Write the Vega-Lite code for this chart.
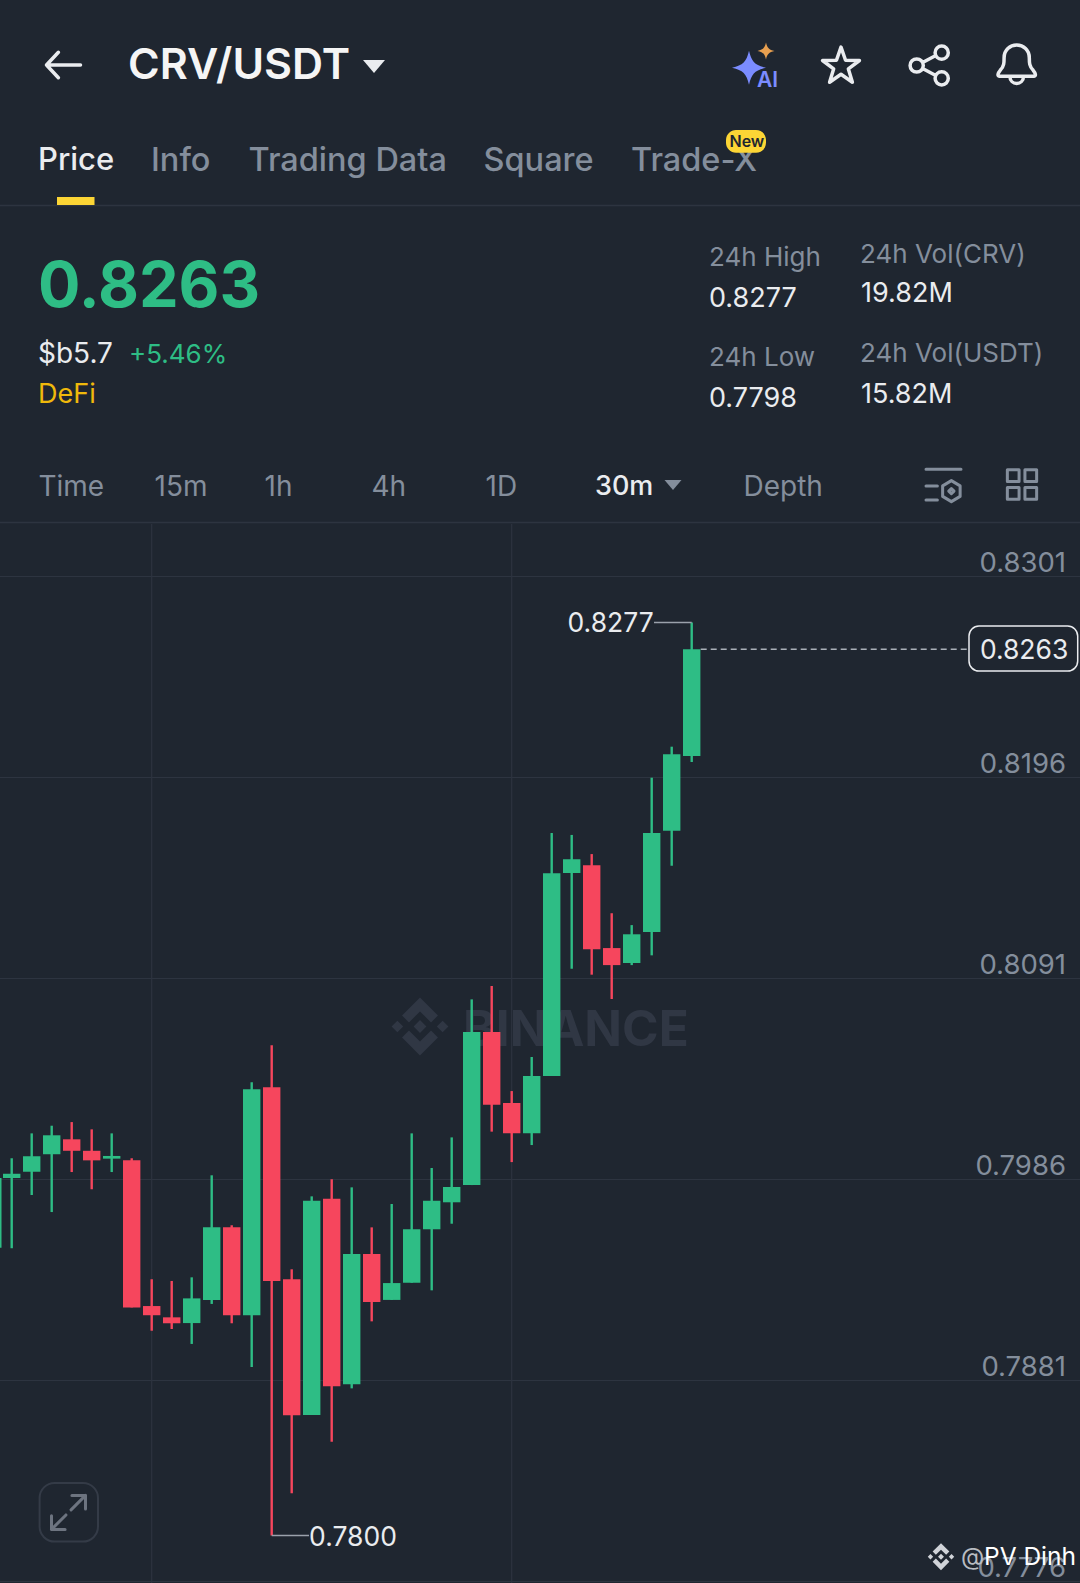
{
  "$schema": "https://vega.github.io/schema/vega-lite/v6.json",
  "width": 1080,
  "height": 1583,
  "padding": 0,
  "autosize": {"type": "none"},
  "background": "#1f2630",
  "config": {"view": {"stroke": null}, "font": "Inter", "text": {"font": "Inter"}},
  "datasets": {
    "candles": [
      {"t": 0.43, "open": 0.79868, "high": 0.79868, "low": 0.79504, "close": 0.79868, "dir": "up"},
      {"t": 1, "open": 0.79868, "high": 0.79971, "low": 0.79501, "close": 0.7989, "dir": "up"},
      {"t": 2, "open": 0.79901, "high": 0.80101, "low": 0.79779, "close": 0.79981, "dir": "up"},
      {"t": 3, "open": 0.79992, "high": 0.80141, "low": 0.7969, "close": 0.80091, "dir": "up"},
      {"t": 4, "open": 0.8007, "high": 0.8016, "low": 0.79899, "close": 0.8001, "dir": "down"},
      {"t": 5, "open": 0.8001, "high": 0.80122, "low": 0.79809, "close": 0.7996, "dir": "down"},
      {"t": 6, "open": 0.79969, "high": 0.80101, "low": 0.79899, "close": 0.79983, "dir": "up"},
      {"t": 7, "open": 0.7996, "high": 0.79971, "low": 0.79192, "close": 0.79192, "dir": "down"},
      {"t": 8, "open": 0.79199, "high": 0.79339, "low": 0.7907, "close": 0.79151, "dir": "down"},
      {"t": 9, "open": 0.7914, "high": 0.7933, "low": 0.79079, "close": 0.79109, "dir": "down"},
      {"t": 10, "open": 0.7911, "high": 0.79349, "low": 0.79001, "close": 0.79239, "dir": "up"},
      {"t": 11, "open": 0.79231, "high": 0.79882, "low": 0.7921, "close": 0.7961, "dir": "up"},
      {"t": 12, "open": 0.7961, "high": 0.79621, "low": 0.79109, "close": 0.79151, "dir": "down"},
      {"t": 13, "open": 0.79151, "high": 0.80368, "low": 0.78881, "close": 0.80332, "dir": "up"},
      {"t": 14, "open": 0.80342, "high": 0.80561, "low": 0.78, "close": 0.7933, "dir": "down"},
      {"t": 15, "open": 0.79339, "high": 0.79391, "low": 0.78221, "close": 0.78628, "dir": "down"},
      {"t": 16, "open": 0.7863, "high": 0.79772, "low": 0.7863, "close": 0.79749, "dir": "up"},
      {"t": 17, "open": 0.7976, "high": 0.79861, "low": 0.7849, "close": 0.7878, "dir": "down"},
      {"t": 18, "open": 0.7879, "high": 0.79819, "low": 0.78769, "close": 0.79471, "dir": "up"},
      {"t": 19, "open": 0.79471, "high": 0.7961, "low": 0.79119, "close": 0.7922, "dir": "down"},
      {"t": 20, "open": 0.79231, "high": 0.79732, "low": 0.79231, "close": 0.79319, "dir": "up"},
      {"t": 21, "open": 0.79321, "high": 0.80101, "low": 0.79321, "close": 0.796, "dir": "up"},
      {"t": 22, "open": 0.796, "high": 0.7992, "low": 0.79281, "close": 0.79749, "dir": "up"},
      {"t": 23, "open": 0.79741, "high": 0.8008, "low": 0.79629, "close": 0.79821, "dir": "up"},
      {"t": 24, "open": 0.79831, "high": 0.80801, "low": 0.79831, "close": 0.8063, "dir": "up"},
      {"t": 25, "open": 0.8063, "high": 0.80871, "low": 0.8011, "close": 0.80251, "dir": "down"},
      {"t": 26, "open": 0.8026, "high": 0.80322, "low": 0.79951, "close": 0.80101, "dir": "down"},
      {"t": 27, "open": 0.80101, "high": 0.805, "low": 0.8004, "close": 0.80401, "dir": "up"},
      {"t": 28, "open": 0.80401, "high": 0.8167, "low": 0.80401, "close": 0.8146, "dir": "up"},
      {"t": 29, "open": 0.81461, "high": 0.8166, "low": 0.80961, "close": 0.81533, "dir": "up"},
      {"t": 30, "open": 0.81501, "high": 0.8156, "low": 0.8093, "close": 0.81063, "dir": "down"},
      {"t": 31, "open": 0.81069, "high": 0.81251, "low": 0.80803, "close": 0.8098, "dir": "down"},
      {"t": 32, "open": 0.80991, "high": 0.81189, "low": 0.8098, "close": 0.81141, "dir": "up"},
      {"t": 33, "open": 0.81153, "high": 0.81959, "low": 0.81031, "close": 0.8167, "dir": "up"},
      {"t": 34, "open": 0.81682, "high": 0.82121, "low": 0.81499, "close": 0.82081, "dir": "up"},
      {"t": 35, "open": 0.82072, "high": 0.8277, "low": 0.82041, "close": 0.8263, "dir": "up"}
    ],
    "ticks": [
      {"t": 0.415, "t2": 54.415, "labelAt": 53.715, "tick": 0.8301, "label": "0.8301"},
      {"t": 0.415, "t2": 54.415, "labelAt": 53.715, "tick": 0.8196, "label": "0.8196"},
      {"t": 0.415, "t2": 54.415, "labelAt": 53.715, "tick": 0.8091, "label": "0.8091"},
      {"t": 0.415, "t2": 54.415, "labelAt": 53.715, "tick": 0.7986, "label": "0.7986"},
      {"t": 0.415, "t2": 54.415, "labelAt": 53.715, "tick": 0.7881, "label": "0.7881"},
      {"t": 0.415, "t2": 54.415, "labelAt": 53.715, "tick": 0.7776, "label": "0.7776"}
    ],
    "textMedium": [
      {"slot": 0, "label": "Price", "role": "tabOn"},
      {"slot": 1, "label": "Info", "role": "tab"},
      {"slot": 2, "label": "Trading Data", "role": "tab"},
      {"slot": 3, "label": "Square", "role": "tab"},
      {"slot": 4, "label": "Trade-X", "role": "tab"},
      {"slot": 5, "label": "30m", "role": "timeOn"}
    ],
    "textBold": [
      {"slot": 6, "label": "CRV/USDT", "role": "title"},
      {"slot": 27, "label": "AI", "role": "ai"},
      {"slot": 28, "label": "New", "role": "new"}
    ],
    "textRegular": [
      {"slot": 8, "label": "$b5.7", "role": "fiat"},
      {"slot": 9, "label": "+5.46%", "role": "change"},
      {"slot": 10, "label": "DeFi", "role": "sector"},
      {"slot": 11, "label": "24h High", "role": "stat"},
      {"slot": 12, "label": "0.8277", "role": "statValue"},
      {"slot": 13, "label": "24h Vol(CRV)", "role": "stat"},
      {"slot": 14, "label": "19.82M", "role": "statValue"},
      {"slot": 15, "label": "24h Low", "role": "stat"},
      {"slot": 16, "label": "0.7798", "role": "statValue"},
      {"slot": 17, "label": "24h Vol(USDT)", "role": "stat"},
      {"slot": 18, "label": "15.82M", "role": "statValue"},
      {"slot": 19, "label": "Time", "role": "time"},
      {"slot": 20, "label": "15m", "role": "time"},
      {"slot": 21, "label": "1h", "role": "time"},
      {"slot": 22, "label": "4h", "role": "time"},
      {"slot": 23, "label": "1D", "role": "time"},
      {"slot": 24, "label": "Depth", "role": "time"},
      {"slot": 25, "label": "@", "role": "at"},
      {"slot": 26, "label": "PV Dinh", "role": "credit"}
    ],
    "strokeIcons": [
      {"slot": 30, "icon": "arrow"},
      {"slot": 34, "icon": "star"},
      {"slot": 35, "icon": "share"},
      {"slot": 36, "icon": "bell"},
      {"slot": 38, "icon": "sliders"},
      {"slot": 39, "icon": "grid"},
      {"slot": 40, "icon": "expand"}
    ],
    "fillIcons": [
      {"slot": 31, "icon": "caret"},
      {"slot": 32, "icon": "spark"},
      {"slot": 33, "icon": "sparkSmall"},
      {"slot": 37, "icon": "caretSmall"},
      {"slot": 42, "icon": "logo"}
    ]
  },
  "layer": [
    {
      "encoding": {
        "x": {"field": "slot", "type": "quantitative", "axis": null, "scale": {"domain": [0, 1], "range": [463, 420], "nice": false, "zero": false}},
        "y": {"field": "slot", "type": "quantitative", "axis": null, "scale": {"domain": [0, 1], "range": [1030.5, 1026.5], "nice": false, "zero": false}}
      },
      "layer": [
        {
          "data": {"values": [{"slot": 0, "label": "BINANCE"}]},
          "mark": {"type": "text", "align": "left", "baseline": "middle", "fontSize": 49.5, "fontWeight": 700, "color": "#303744"},
          "encoding": {"text": {"field": "label"}}
        },
        {
          "data": {"values": [{"slot": 1, "label": "logo"}]},
          "mark": {"type": "point", "filled": true, "opacity": 1, "size": 3364, "color": "#303744", "shape": "M0,-1 L0.62,-0.38 L0.38,-0.14 L0,-0.52 L-0.38,-0.14 L-0.62,-0.38 Z M0,1 L0.62,0.38 L0.38,0.14 L0,0.52 L-0.38,0.14 L-0.62,0.38 Z M0,-0.22 L0.22,0 L0,0.22 L-0.22,0 Z M-0.78,-0.2 L-0.58,0 L-0.78,0.2 L-0.98,0 Z M0.78,-0.2 L0.98,0 L0.78,0.2 L0.58,0 Z"},
          "encoding": {}
        }
      ]
    },
    {
      "encoding": {
        "x": {"field": "t", "type": "quantitative", "axis": null, "scale": {"domain": [0.415, 54.415], "nice": false, "zero": false, "padding": 0}}
      },
      "layer": [
        {
          "data": {"name": "ticks"},
          "mark": {"type": "rule", "color": "#2d3440", "strokeWidth": 1.2},
          "encoding": {
            "y": {"field": "tick", "type": "quantitative", "axis": null, "scale": {"domain": [0.777522, 0.860216], "nice": false, "zero": false}},
            "x2": {"field": "t2"}
          }
        },
        {
          "data": {"name": "ticks"},
          "mark": {"type": "text", "align": "right", "baseline": "middle", "dy": -13, "fontSize": 27.5, "color": "#848e9c"},
          "encoding": {
            "x": {"field": "labelAt", "type": "quantitative", "axis": null},
            "y": {"field": "tick", "type": "quantitative", "axis": null},
            "text": {"field": "label"}
          }
        },
        {
          "data": {"values": [{"t": 8, "top": 0.83284, "bottom": 0.777522}, {"t": 26, "top": 0.83284, "bottom": 0.777522}]},
          "mark": {"type": "rule", "color": "#2d3440", "strokeWidth": 1.2},
          "encoding": {
            "y": {"field": "top", "type": "quantitative", "axis": null},
            "y2": {"field": "bottom"}
          }
        },
        {
          "data": {"name": "candles"},
          "mark": {"type": "rule", "strokeWidth": 2.4},
          "encoding": {
            "y": {"field": "low", "type": "quantitative", "axis": null},
            "y2": {"field": "high"},
            "color": {"field": "dir", "type": "nominal", "legend": null, "scale": {"domain": ["up", "down"], "range": ["#2ebd85", "#f6465d"]}}
          }
        },
        {
          "data": {"name": "candles"},
          "mark": {"type": "bar", "size": 17.4, "orient": "vertical"},
          "encoding": {
            "y": {"field": "open", "type": "quantitative", "axis": null},
            "y2": {"field": "close"},
            "color": {"field": "dir", "type": "nominal", "legend": null, "scale": {"domain": ["up", "down"], "range": ["#2ebd85", "#f6465d"]}}
          }
        },
        {
          "data": {"values": [{"t": 33.115, "t2": 35, "price": 0.8277}, {"t": 14, "t2": 15.865, "price": 0.78}]},
          "mark": {"type": "rule", "color": "#9aa1ab", "strokeWidth": 1.5},
          "encoding": {
            "y": {"field": "price", "type": "quantitative", "axis": null},
            "x2": {"field": "t2"}
          }
        },
        {
          "data": {"values": [{"t": 35.45, "t2": 48.8, "price": 0.8263}]},
          "mark": {"type": "rule", "color": "#aab0b8", "strokeWidth": 1.5, "strokeDash": [6, 4]},
          "encoding": {
            "y": {"field": "price", "type": "quantitative", "axis": null},
            "x2": {"field": "t2"}
          }
        },
        {
          "data": {"values": [{"t": 48.865, "t2": 54.3, "top": 0.82751, "bottom": 0.82516}]},
          "mark": {"type": "rect", "fill": "#1f2630", "stroke": "#eaecef", "strokeWidth": 1.5, "cornerRadius": 10},
          "encoding": {
            "y": {"field": "top", "type": "quantitative", "axis": null},
            "y2": {"field": "bottom"},
            "x2": {"field": "t2"}
          }
        },
        {
          "data": {"values": [{"t": 33.1, "price": 0.8277, "label": "0.8277"}]},
          "mark": {"type": "text", "align": "right", "baseline": "middle", "dy": 2, "fontSize": 26.5, "color": "#eaecef"},
          "encoding": {
            "y": {"field": "price", "type": "quantitative", "axis": null},
            "text": {"field": "label"}
          }
        },
        {
          "data": {"values": [{"t": 15.87, "price": 0.78, "label": "0.7800"}]},
          "mark": {"type": "text", "align": "left", "baseline": "middle", "dy": 2, "fontSize": 26.5, "color": "#eaecef"},
          "encoding": {
            "y": {"field": "price", "type": "quantitative", "axis": null},
            "text": {"field": "label"}
          }
        },
        {
          "data": {"values": [{"t": 51.62, "price": 0.8263, "label": "0.8263"}]},
          "mark": {"type": "text", "align": "center", "baseline": "middle", "dy": 2, "fontSize": 26.5, "color": "#eaecef"},
          "encoding": {
            "y": {"field": "price", "type": "quantitative", "axis": null},
            "text": {"field": "label"}
          }
        }
      ]
    },
    {
      "encoding": {
        "x": {
          "field": "slot",
          "type": "quantitative",
          "axis": null,
          "scale": {
            "nice": false,
            "zero": false,
            "padding": 0,
            "domain": [0,1,2,3,4,5,6,7,8,9,10,11,12,13,14,15,16,17,18,19,20,21,22,23,24,25,26,27,28,29,30,31,32,33,34,35,36,37,38,39,40,41,42,43,44,45,46,47,48,49,50,51,52],
            "range": [38,151,248.5,483.5,631,595,128,38,38,129,38,709,709,860,861,709,709,860,861,38.4,154.5,264.5,371.5,485.5,743.5,961,984,757,729.5,0,63.5,374,749,766,841,930,1016.7,673,943.5,1022,68.5,0,941,57,94.5,726,766,39.6,98,0,1080,0,1080]
          }
        },
        "y": {
          "field": "slot",
          "type": "quantitative",
          "axis": null,
          "scale": {
            "nice": false,
            "zero": false,
            "padding": 0,
            "domain": [0,1,2,3,4,5,6,7,8,9,10,11,12,13,14,15,16,17,18,19,20,21,22,23,24,25,26,27,28,29,30,31,32,33,34,35,36,37,38,39,40,41,42,43,44,45,46,47,48,49,50,51,52],
            "range": [160.5,160.5,160.5,160.5,160.5,487,66,287.5,355,355,394.5,257.5,299,254.5,294,357.5,398.5,353.5,394.5,487.5,487.5,487.5,487.5,487.5,487.5,1558,1558,81,142,0,65,66.5,67.7,51,66.5,65.5,64.5,485,485,484.5,1512.4,0,1556.7,197,205,130,152.7,1483,1541.6,205.5,205.5,522.5,522.5]
          }
        }
      },
      "layer": [
        {
          "data": {"values": [{"slot": 49, "slotEnd": 50}, {"slot": 51, "slotEnd": 52}]},
          "mark": {"type": "rule", "color": "#2d3440", "strokeWidth": 1.5},
          "encoding": {"x2": {"field": "slotEnd"}}
        },
        {
          "data": {"values": [{"slot": 43, "slotEnd": 44}]},
          "mark": {"type": "rect", "color": "#fcd535"},
          "encoding": {"x2": {"field": "slotEnd"}, "y2": {"field": "slotEnd"}}
        },
        {
          "data": {"values": [{"slot": 47, "slotEnd": 48}]},
          "mark": {"type": "rect", "fill": "#1f2630", "stroke": "#343b47", "strokeWidth": 2, "cornerRadius": 15},
          "encoding": {"x2": {"field": "slotEnd"}, "y2": {"field": "slotEnd"}}
        },
        {
          "encoding": {
            "text": {"field": "label"},
            "size": {
              "field": "role",
              "type": "nominal",
              "legend": null,
              "scale": {
                "type": "ordinal",
                "domain": ["title", "tabOn", "tab", "price", "fiat", "change", "sector", "stat", "statValue", "timeOn", "time", "at", "credit", "ai", "new"],
                "range": [43, 31, 32.5, 63, 28, 26, 27, 26, 27, 27, 28, 24, 24.5, 21, 16]
              }
            },
            "color": {
              "field": "role",
              "type": "nominal",
              "legend": null,
              "scale": {
                "domain": ["title", "tabOn", "tab", "price", "fiat", "change", "sector", "stat", "statValue", "timeOn", "time", "at", "credit", "ai", "new"],
                "range": ["#f5f5f5", "#eaecef", "#848e9c", "#2ebd85", "#eaecef", "#2ebd85", "#f0b90b", "#848e9c", "#eaecef", "#eaecef", "#848e9c", "#b8bcc2", "#ffffff", "#7b8cff", "#1f2630"]
              }
            }
          },
          "layer": [
            {
              "data": {"name": "textRegular"},
              "mark": {"type": "text", "align": "left", "baseline": "middle", "fontWeight": 400}
            },
            {
              "data": {"name": "textMedium"},
              "mark": {"type": "text", "align": "left", "baseline": "middle", "fontWeight": 500}
            },
            {
              "data": {"values": [{"slot": 7, "label": "0.8263", "role": "price"}]},
              "mark": {"type": "text", "align": "left", "baseline": "middle", "fontWeight": 700}
            },
            {
              "data": {"values": [{"slot": 45, "slotEnd": 46}]},
              "mark": {"type": "rect", "color": "#fcd535", "cornerRadius": 10},
              "encoding": {"x2": {"field": "slotEnd"}, "y2": {"field": "slotEnd"}, "text": null, "size": null, "color": null}
            },
            {
              "data": {"name": "textBold"},
              "mark": {"type": "text", "align": "left", "baseline": "middle", "fontWeight": 600}
            }
          ]
        },
        {
          "encoding": {
            "color": {
              "field": "icon",
              "type": "nominal",
              "legend": null,
              "scale": {
                "domain": ["arrow", "star", "share", "bell", "sliders", "grid", "expand", "caret", "spark", "sparkSmall", "caretSmall", "logo"],
                "range": ["#eaecef", "#eaecef", "#eaecef", "#eaecef", "#848e9c", "#848e9c", "#6d7480", "#eaecef", "#7b8cff", "#e8a050", "#848e9c", "#d0d3d8"]
              }
            },
            "size": {
              "field": "icon",
              "type": "nominal",
              "legend": null,
              "scale": {
                "type": "ordinal",
                "domain": ["arrow", "star", "share", "bell", "sliders", "grid", "expand", "caret", "spark", "sparkSmall", "caretSmall", "logo"],
                "range": [1156, 1505, 1600, 1505, 1225, 858, 1156, 484, 1156, 289, 289, 729]
              }
            },
            "shape": {
              "field": "icon",
              "type": "nominal",
              "legend": null,
              "scale": {
                "domain": ["arrow", "star", "share", "bell", "sliders", "grid", "expand", "caret", "spark", "sparkSmall", "caretSmall", "logo"],
                "range": [
                  "M1,0 L-1,0 M-0.3,-0.75 L-1,0 L-0.3,0.75",
                  "M0,-1 L0.235,-0.324 L0.951,-0.309 L0.38,0.124 L0.588,0.809 L0,0.4 L-0.588,0.809 L-0.38,0.124 L-0.951,-0.309 L-0.235,-0.324 Z",
                  "M0.915,-0.64 A0.33,0.33 0 1,1 0.255,-0.64 A0.33,0.33 0 1,1 0.915,-0.64 Z M0.915,0.64 A0.33,0.33 0 1,1 0.255,0.64 A0.33,0.33 0 1,1 0.915,0.64 Z M-0.335,0 A0.33,0.33 0 1,1 -0.995,0 A0.33,0.33 0 1,1 -0.335,0 Z M-0.37,-0.15 L0.29,-0.5 M-0.37,0.15 L0.29,0.5",
                  "M-0.9,0.6 C-1,0.6 -0.98,0.45 -0.85,0.3 C-0.65,0.1 -0.65,-0.1 -0.65,-0.35 C-0.65,-0.75 -0.35,-1 0,-1 C0.35,-1 0.65,-0.75 0.65,-0.35 C0.65,-0.1 0.65,0.1 0.85,0.3 C0.98,0.45 1,0.6 0.9,0.6 Z M-0.35,0.6 C-0.35,1.1 0.35,1.1 0.35,0.6",
                  "M-1,-0.9 L1,-0.9 M-1,0.05 L-0.35,0.05 M-1,0.85 L-0.35,0.85 M0.45,-0.25 L0.95,0.05 L0.95,0.65 L0.45,0.95 L-0.05,0.65 L-0.05,0.05 Z M0.45,0.2 L0.6,0.35 L0.45,0.5 L0.3,0.35 Z",
                  "M-1,-1 L-0.2,-1 L-0.2,-0.2 L-1,-0.2 Z M0.2,-1 L1,-1 L1,-0.2 L0.2,-0.2 Z M-1,0.2 L-0.2,0.2 L-0.2,1 L-1,1 Z M0.2,0.2 L1,0.2 L1,1 L0.2,1 Z",
                  "M-1,1 L-0.15,0.15 M0.15,-0.15 L1,-1 M0.2,-1 L1,-1 L1,-0.2 M-1,0.2 L-1,1 L-0.2,1",
                  "M-1,-0.6 L1,-0.6 L0,0.6 Z",
                  "M0,-1 C0.15,-0.35 0.35,-0.15 1,0 C0.35,0.15 0.15,0.35 0,1 C-0.15,0.35 -0.35,0.15 -1,0 C-0.35,-0.15 -0.15,-0.35 0,-1 Z",
                  "M0,-1 C0.15,-0.35 0.35,-0.15 1,0 C0.35,0.15 0.15,0.35 0,1 C-0.15,0.35 -0.35,0.15 -1,0 C-0.35,-0.15 -0.15,-0.35 0,-1 Z",
                  "M-1,-0.6 L1,-0.6 L0,0.6 Z",
                  "M0,-1 L0.62,-0.38 L0.38,-0.14 L0,-0.52 L-0.38,-0.14 L-0.62,-0.38 Z M0,1 L0.62,0.38 L0.38,0.14 L0,0.52 L-0.38,0.14 L-0.62,0.38 Z M0,-0.22 L0.22,0 L0,0.22 L-0.22,0 Z M-0.78,-0.2 L-0.58,0 L-0.78,0.2 L-0.98,0 Z M0.78,-0.2 L0.98,0 L0.78,0.2 L0.58,0 Z"
                ]
              }
            }
          },
          "layer": [
            {
              "data": {"name": "strokeIcons"},
              "mark": {"type": "point", "filled": false, "opacity": 1, "strokeJoin": "round", "strokeCap": "round"},
              "encoding": {
                "strokeWidth": {
                  "field": "icon",
                  "type": "nominal",
                  "legend": null,
                  "scale": {
                    "type": "ordinal",
                    "domain": ["arrow", "star", "share", "bell", "sliders", "grid", "expand"],
                    "range": [3.5, 3.5, 3.5, 3.5, 3, 3, 3]
                  }
                }
              }
            },
            {
              "data": {"name": "fillIcons"},
              "mark": {"type": "point", "filled": true, "opacity": 1}
            }
          ]
        }
      ],
      "resolve": {"scale": {"size": "independent", "color": "independent", "shape": "independent"}}
    }
  ],
  "resolve": {"scale": {"x": "independent", "y": "independent", "color": "independent", "size": "independent", "shape": "independent"}}
}
